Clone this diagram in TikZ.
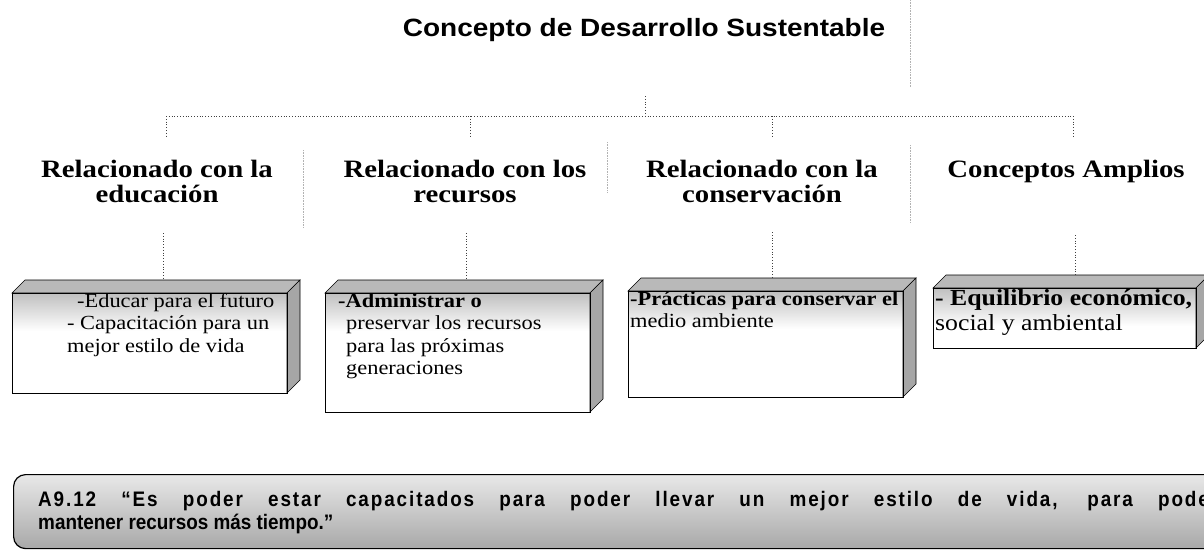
\documentclass[tikz,border=0pt]{standalone}
\usepackage{fontspec}
\setmainfont{Liberation Serif}
\newfontfamily\titlefont{Liberation Sans}[FakeStretch=1.12]
\newfontfamily\headfont{Liberation Serif}[FakeStretch=1.15]
\newfontfamily\boxfont{Liberation Serif}[FakeStretch=1.12]
\newfontfamily\quoteA{Liberation Sans}[LetterSpace=9,FakeStretch=0.9]
\newfontfamily\quoteB{Liberation Sans}[FakeStretch=0.9]
\newcommand\cubebox[5]{%
  \fill[white] (#1,#2) rectangle (#3,#4);
  \shade[top color=gray!50, bottom color=white] (#1,#2) rectangle (#3,{#2+38});
  \filldraw[topface] (#1,#2) -- ({#1+13},{#2-13}) -- ({#3+13},{#2-13}) -- (#3,#2) -- cycle;
  \filldraw[sideface] (#3,#2) -- ({#3+13},{#2-13}) -- ({#3+13},{#4-13}) -- (#3,#4) -- cycle;
  \node[frontface, minimum width={#3-#1}, minimum height={#4-#2}, anchor=north west] (#5) at (#1,#2) {};
  \coordinate (#5-top) at ({(#1+#3)/2+6.5},{#2-13});
}
\begin{document}
\begin{tikzpicture}[x=1pt,y=-1pt,
  conn/.style={dotted, line width=0.8pt, black!75},
  sepline/.style={densely dotted, line width=0.6pt, black!30},
  head/.style={font=\headfont\bfseries\fontsize{25}{25}\selectfont, align=center, inner sep=0, anchor=north},
  boxtext/.style={font=\boxfont\fontsize{20}{22.5}\selectfont, align=left, inner sep=0, anchor=north west},
  topface/.style={fill=gray!55, draw=black, line width=0.6pt},
  sideface/.style={fill=gray!70, draw=black, line width=0.6pt},
  frontface/.style={draw=black, line width=0.8pt, inner sep=0}]
\useasboundingbox (0,0) rectangle (1204,550);

% title
\node[anchor=base, inner sep=0, font=\titlefont\bfseries\fontsize{25}{30}\selectfont] (title) at (644,36) {Concepto de Desarrollo Sustentable};

% faint scan separators
\draw[sepline] (910,0) -- (910,87);
\draw[sepline] (303,150) -- (303,228);
\draw[sepline] (607,142) -- (607,192);
\draw[sepline] (910,145) -- (910,222);

% headings
\node[head] (h1) at (157,160) {Relacionado con la\\educación};
\node[head] (h2) at (465,160) {Relacionado con los\\recursos};
\node[head] (h3) at (762,160) {Relacionado con la\\conservación};
\node[head] (h4) at (1066,160) {Conceptos Amplios};

% tree connectors
\coordinate (tc) at (645,96);
\coordinate (hub) at (645,116);
\coordinate (barL) at (166,116);
\coordinate (barR) at (1073,116);
\coordinate (d1) at (166,137);
\coordinate (d2) at (470,137);
\coordinate (d3) at (772,137);
\coordinate (d4) at (1073,137);
\draw[conn] (tc) -- (hub);
\draw[conn] (barL) -- (barR);
\draw[conn] (d1 |- barL) -- (d1);
\draw[conn] (d2 |- barL) -- (d2);
\draw[conn] (d3 |- barL) -- (d3);
\draw[conn] (d4 |- barL) -- (d4);

% cube boxes
\cubebox{12}{293}{287}{393}{b1}
\cubebox{325}{293}{590}{412}{b2}
\cubebox{628}{291}{903}{397}{b3}
\cubebox{933}{288}{1196}{348}{b4}

% heading to box connectors
\coordinate (e1) at (163,233);
\coordinate (e2) at (466,233);
\coordinate (e3) at (772,232);
\coordinate (e4) at (1075,235);
\draw[conn] (e1) -- (e1 |- b1-top);
\draw[conn] (e2) -- (e2 |- b2-top);
\draw[conn] (e3) -- (e3 |- b3-top);
\draw[conn] (e4) -- (e4 |- b4-top);

% box texts
\node[boxtext] (t1) at (67,293) {\hspace*{10pt}-Educar para el futuro\\- Capacitación para un\\mejor estilo de vida};
\node[boxtext] (t2) at (338,293) {\textbf{-Administrar o}\\\hspace*{8pt}preservar los recursos\\\hspace*{8pt}para las próximas\\\hspace*{8pt}generaciones};
\node[boxtext] (t3) at (630,291) {\textbf{-Prácticas para conservar el}\\medio ambiente};
\node[boxtext, font=\boxfont\fontsize{23}{25}\selectfont] (t4) at (935,289) {\textbf{- Equilibrio económico,}\\social y ambiental};

% quote box
\node[draw=black, line width=1.2pt, rounded corners=12pt, minimum width=1230pt, minimum height=74pt,
      anchor=north west, inner sep=0, top color=gray!18, bottom color=gray!68] (q) at (13,474) {};
\node[anchor=base west, inner sep=0, font=\quoteA\bfseries\fontsize{21}{24}\selectfont] (q1) at (38,506)
  {\makebox[1180pt][s]{A9.12 “Es poder estar capacitados para poder llevar un mejor estilo de vida, para poder}};
\node[anchor=base west, inner sep=0, font=\quoteB\bfseries\fontsize{21}{24}\selectfont] (q2) at (38,529)
  {mantener recursos más tiempo.”};
\end{tikzpicture}
\end{document}
